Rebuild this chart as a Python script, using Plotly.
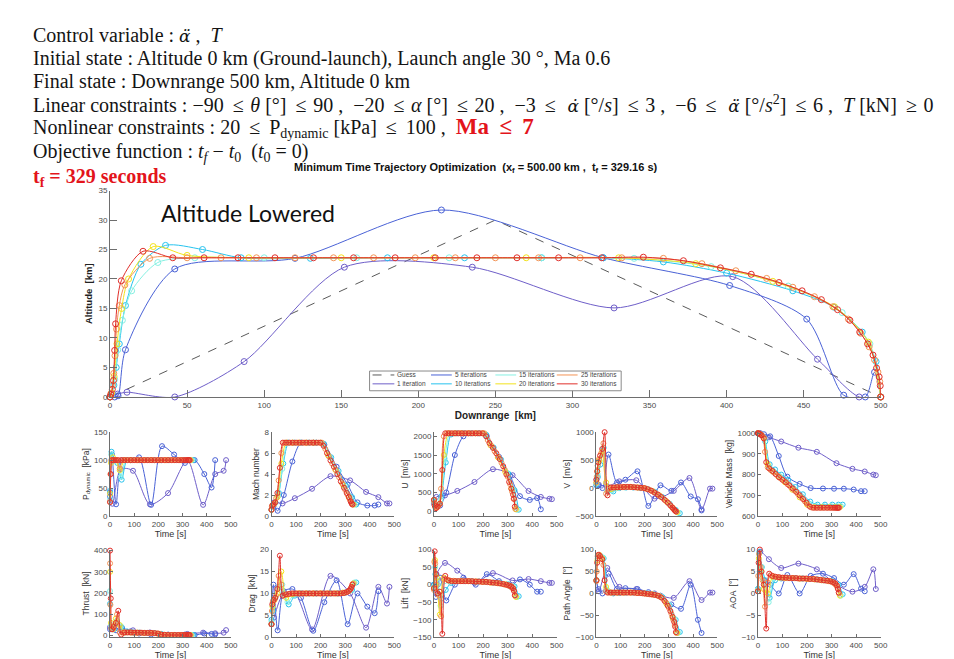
import plotly.graph_objects as go

W, H = 954, 659
SANS = "Liberation Sans, Arial, sans-serif"
SERIF = "Liberation Serif, Times New Roman, serif"

# ------------------------------------------------------------------ data
iter_labels = ['1 iteration', '5 iterations', '10 iterations', '15 iterations',
               '20 iterations', '25 iterations', '30 iterations']
iter_colors = ['#6f5fc9', '#4a62d6', '#27c3ee', '#86f0e2', '#f2e21c', '#f39455', '#e0302b']
guess_label = 'Guess'
guess_color = '#5a5a5a'

# main plot: downrange [km] / altitude [km]
dr_guess = [0, 250, 500]
alt_guess = [0, 30, 0]
dr_it1 = [0, 5, 11, 42, 87, 152, 235, 327, 404, 459, 486, 500]
alt_it1 = [0, 0.5, 0.8, 0, 6.0, 22.0, 22.0, 15.1, 20.4, 6.4, 0, 0]
dr_it5 = [0, 3, 5.2, 10, 42, 120, 215, 320, 402, 452, 476, 490, 496, 500]
alt_it5 = [0, 0, 0.2, 8.0, 21.7, 23.5, 31.7, 23.6, 18.9, 13.2, 0.3, 0, 4.2, 0]
dr_it10 = [0, 1, 2.5, 4, 6, 10, 20, 36, 60, 85, 130, 180, 230, 280, 320, 359, 400, 443, 470, 488, 497, 500]
alt_it10 = [0, 0.5, 2, 5, 9, 15.5, 22.5, 25.7, 25.0, 23.6, 23.5, 23.6, 23.6, 23.6, 23.6, 22.9, 21.0, 18.0, 15.2, 11.0, 6.0, 0]
dr_it15 = [0, 1.2, 3, 5, 8, 14, 31, 55, 100, 160, 220, 280, 340, 390, 440, 475, 493, 500]
alt_it15 = [0, 0.6, 3, 8, 13, 18, 22.8, 23.6, 23.6, 23.6, 23.6, 23.6, 23.5, 22.1, 18.8, 14.3, 9.0, 0]
dr_it20 = [0, 1, 2.6, 4.5, 7.5, 12, 28, 50, 90, 150, 210, 270, 330, 380, 430, 470, 492, 500]
alt_it20 = [0, 0.7, 3.5, 9, 15, 20, 25.5, 24.0, 23.6, 23.6, 23.6, 23.6, 23.6, 22.6, 19.6, 15.3, 9.3, 0]
dr_it25 = [0, 0.6, 1.6, 2.4, 3.2, 4.2, 6.0, 9.6, 25.7, 50, 72, 95, 120, 145, 171, 198, 224, 250, 278, 305,
           332, 359, 384, 406, 426, 443, 457, 469, 479, 487, 492.5, 496, 498.2, 499.4, 500]
alt_it25 = [0, 0.6, 2.0, 4.0, 7.0, 11.5, 15.5, 19.0, 23.5, 23.6, 23.6, 23.6, 23.6, 23.6, 23.6, 23.6, 23.6, 23.6, 23.6, 23.6,
            23.6, 23.5, 22.6, 21.4, 20.1, 18.6, 17.0, 15.3, 13.2, 10.8, 8.5, 6.3, 4.2, 2.6, 0]
dr_it30 = [0, 0.5, 1.5, 2.2, 3.0, 3.6, 7.3, 21.4, 40.7, 61, 83, 107, 132, 158, 185, 211, 238, 264, 291, 319,
           346, 372, 396, 416, 434, 449, 461.5, 472, 480, 486.4, 491.5, 495, 497.3, 499, 499.7, 500]
alt_it30 = [0, 0.4, 1.3, 2.8, 7.9, 12.4, 19.7, 24.7, 23.6, 23.6, 23.6, 23.6, 23.6, 23.6, 23.6, 23.6, 23.6, 23.6, 23.6, 23.6,
            23.7, 23.1, 21.9, 20.8, 19.4, 18.0, 16.5, 14.8, 13.0, 11.0, 9.0, 7.1, 4.9, 3.4, 1.9, 0]

# time nodes [s] of each iteration
t_it1 = [0, 10, 45, 95, 165, 240, 320, 385, 435, 470, 480]
t_it5 = [0, 8, 25, 50, 85, 120, 170, 215, 265, 310, 350, 390, 420, 435]
t_it10 = [0, 6, 16, 30, 48, 70, 95, 123, 153, 183, 213, 243, 273, 303, 328, 345]
t_it15 = [0, 5, 14, 27, 44, 65, 90, 118, 148, 178, 208, 238, 268, 298, 322, 338]
t_it20 = [0, 4, 12, 24, 40, 60, 85, 110, 140, 170, 200, 230, 260, 290, 315, 334]
t_it25 = [0, 1.5, 5, 11, 19, 29, 40, 52, 65, 79, 93, 107, 121, 135, 149, 163, 177, 191, 205, 219,
          233, 247, 261, 275, 288, 300, 310, 318, 324, 331]
t_it30 = [0, 3, 8, 15, 24, 34, 46, 59, 72, 86, 100, 114, 128, 142, 156, 170, 184, 198, 212, 226,
          240, 254, 268, 282, 295, 306, 315, 322, 326, 329]

# dynamic pressure [kPa]
pdyn_it1 = [42, 22, 84, 81, 21, 41, 100, 20, 75, 81, 100]
pdyn_it5 = [35, 110, 21, 100, 100, 105, 20, 125, 110, 95, 100, 75, 51, 100]
pdyn_it10 = [45, 115, 100, 95, 65, 100, 100, 100, 100, 100, 100, 100, 100, 100, 100, 100]
pdyn_it15 = [30, 110, 100, 100, 70, 100, 100, 100, 100, 100, 100, 100, 100, 100, 100, 100]
pdyn_it20 = [40, 95, 105, 100, 82, 100, 100, 100, 100, 100, 100, 100, 100, 100, 100, 100]
pdyn_it25 = [25, 75, 100, 100, 100, 100, 85, 100, 100, 100, 100, 100, 100, 100, 100, 100, 100, 100, 100, 100,
             100, 100, 100, 100, 100, 100, 100, 100, 100, 100]
pdyn_it30 = [25, 75, 100, 100, 100, 100, 100, 100, 100, 100, 100, 100, 100, 100, 100, 100, 100, 100, 100, 100,
             100, 100, 100, 100, 100, 100, 100, 100, 100, 100]

# Mach number
mach_it1 = [0.6, 1.3, 1.2, 1.7, 2.6, 3.8, 3.4, 2.3, 1.8, 1.2, 1.2]
mach_it5 = [0.6, 0.9, 0.5, 2.0, 5.2, 7.0, 7.0, 6.8, 4.7, 3.0, 1.3, 1.0, 1.0, 1.1]
mach_it10 = [0.6, 1.0, 1.3, 2.2, 5.0, 7, 7, 7, 7, 7, 6.9, 5.6, 4.3, 2.9, 1.8, 1.1]
mach_it15 = [0.6, 1.0, 1.2, 1.9, 4.5, 7, 7, 7, 7, 7, 6.9, 5.6, 4.2, 2.8, 1.7, 1.1]
mach_it20 = [0.6, 1.0, 1.2, 1.8, 5.0, 7, 7, 7, 7, 7, 7, 5.8, 4.4, 3.0, 1.8, 1.1]
mach_it25 = [0.6, 0.9, 1.05, 1.2, 1.7, 3.4, 6.0, 7, 7, 7, 7, 7, 7, 7, 7, 7, 7, 7, 7, 6.4,
             5.7, 5.0, 4.4, 3.7, 3.1, 2.5, 2.0, 1.6, 1.35, 1.1]
mach_it30 = [0.6, 1.0, 1.1, 1.3, 2.2, 4.6, 7.0, 7.0, 7.0, 7.0, 7.0, 7.0, 7.0, 7.0, 7.0, 7.0, 7.0, 7.0, 6.7, 6.0,
             5.3, 4.7, 4.0, 3.3, 2.7, 2.2, 1.8, 1.4, 1.2, 1.1]

# horizontal velocity U [m/s]
u_it1 = [200, 380, 420, 540, 780, 1120, 960, 540, 380, 330, 320]
u_it5 = [300, 150, 150, 500, 1500, 2000, 2150, 2000, 1450, 950, 400, 300, 350, 50]
u_it10 = [250, 120, 150, 400, 1300, 2050, 2080, 2080, 2080, 2080, 2040, 1700, 1380, 1000, 560, 40]
u_it15 = [280, 130, 120, 300, 1400, 2070, 2080, 2080, 2080, 2080, 2050, 1720, 1400, 1020, 580, 40]
u_it20 = [300, 150, 100, 200, 1500, 2080, 2080, 2080, 2080, 2080, 2080, 1760, 1440, 1050, 600, 50]
u_it25 = [300, 220, 110, 90, 150, 600, 2000, 2080, 2080, 2080, 2080, 2080, 2080, 2080, 2080, 2080, 2080, 2080, 2080, 1900,
          1750, 1600, 1450, 1290, 1110, 920, 720, 520, 330, 60]
u_it30 = [300, 150, 80, 120, 200, 1100, 2080, 2080, 2080, 2080, 2080, 2080, 2080, 2080, 2080, 2080, 2080, 2080, 2000, 1820,
          1690, 1545, 1390, 1200, 980, 780, 600, 440, 330, 120]

# vertical velocity V [m/s]
v_it1 = [50, 60, 30, 120, 140, -190, -50, 180, -380, -10, -10]
v_it5 = [150, 50, 0, 600, 100, 150, 300, -320, 50, -50, 100, -150, -200, -400]
v_it10 = [60, 200, 420, 720, -60, -60, 0, 10, 10, 0, -20, -70, -160, -280, -390, -450]
v_it15 = [80, 250, 480, 700, -50, -40, 0, 10, 15, 5, -10, -60, -150, -270, -380, -440]
v_it20 = [100, 300, 500, 650, 100, -20, 10, 15, 20, 10, -5, -50, -130, -240, -350, -430]
v_it25 = [100, 200, 400, 520, 620, 800, -100, 0, 10, 12, 15, 18, 20, 20, 18, 12, 8, 2, -10, -30,
          -60, -95, -135, -180, -230, -280, -330, -370, -400, -420]
v_it30 = [150, 300, 460, 580, 700, 1000, -130, 10, 10, 15, 15, 20, 20, 20, 15, 10, 5, 0, -20, -45,
          -80, -115, -160, -210, -260, -310, -350, -385, -405, -420]

# vehicle mass [kg]
mass_it1 = [1000, 1000, 980, 960, 930, 910, 855, 828, 815, 800, 797]
mass_it5 = [1000, 999, 995, 985, 890, 790, 755, 735, 733, 732, 732, 728, 720, 720]
mass_it10 = [1000, 998, 990, 960, 850, 825, 800, 775, 740, 705, 670, 655, 655, 655, 655, 655]
mass_it15 = [1000, 998, 992, 972, 840, 815, 792, 765, 730, 695, 660, 648, 648, 648, 648, 648]
mass_it20 = [1000, 998, 994, 978, 850, 815, 790, 763, 727, 690, 655, 643, 643, 643, 643, 643]
mass_it25 = [1000, 1000, 998, 994, 985, 910, 835, 822, 810, 795, 781, 768, 753, 738, 723, 706, 689, 671, 652, 641,
             640, 640, 640, 640, 640, 640, 640, 640, 640, 640]
mass_it30 = [1000, 999, 996, 990, 975, 860, 830, 818, 803, 787, 775, 763, 748, 733, 717, 700, 682, 664, 645, 640,
             640, 640, 640, 640, 640, 640, 640, 640, 640, 640]

# thrust [kN]
thrust_it1 = [40, 35, 30, 25, 15, 5, 8, 14, 11, 14, 26]
thrust_it5 = [30, 40, 25, 35, 20, 10, 5, 3, 3, 5, 3, 10, 8, 6]
thrust_it10 = [150, 40, 30, 60, 40, 20, 15, 14, 13, 12, 8, 4, 3, 3, 3, 3]
thrust_it15 = [210, 50, 30, 70, 45, 15, 15, 14, 13, 12, 8, 3, 3, 3, 3, 3]
thrust_it20 = [300, 60, 30, 80, 50, 15, 15, 14, 13, 12, 9, 3, 3, 3, 3, 3]
thrust_it25 = [340, 145, 35, 30, 50, 100, 15, 13, 15, 15, 14, 14, 14, 13, 13, 13, 12, 11, 8, 4,
               3, 3, 3, 3, 3, 3, 3, 3, 3, 3]
thrust_it30 = [400, 175, 30, 40, 60, 117, 5, 15, 15, 15, 14, 14, 14, 13, 13, 13, 12, 10, 5, 4,
               3, 3, 3, 3, 3, 3, 3, 3, 3, 3]

# drag [kN]
drag_it1 = [3, 4.5, 9.5, 10, 1.8, 14, 10, 2.2, 11.5, 7.7, 11.5]
drag_it5 = [3, 12, 1.6, 10.5, 11, 9, 1.5, 8, 13, 3, 10, 7, 5.5, 10.5]
drag_it10 = [4, 6, 9, 11.5, 10, 7.5, 9.5, 10, 10, 10, 10, 10, 10, 10.2, 10.8, 12.5]
drag_it15 = [3.5, 7, 9, 11, 12, 8, 9.6, 10, 10, 10, 10, 10, 10, 10.2, 10.7, 12.5]
drag_it20 = [3, 7, 8.5, 10, 15, 9, 9.8, 10, 10, 10, 10, 10, 10, 10.2, 10.6, 12.3]
drag_it25 = [3, 6, 8, 8.5, 9.5, 14, 12, 9.6, 9.8, 10, 10, 10, 10, 10, 10, 10, 10, 10, 10, 10,
             10, 10, 10, 10, 10.1, 10.2, 10.4, 10.8, 11.3, 12.2]
drag_it30 = [3, 7.5, 8.5, 9, 11, 18.6, 9.5, 9.8, 9.9, 10, 10, 10, 10, 10, 10, 10, 10, 10, 10, 10,
             10, 10, 10, 10, 10.1, 10.3, 10.6, 11.0, 11.5, 12.0]

# lift [kN]
lift_it1 = [0, 30, 62, 40, 5, 33, 12, 16, 10, 5, 5]
lift_it5 = [0, -35, 20, -45, 0, 20, 0, 30, 10, -5, 15, 0, -20, -20]
lift_it10 = [0, 30, 0, -40, -15, 5, 10, 10, 10, 9, 8, 6, 4, 1, -5, -33]
lift_it15 = [-5, 50, 10, -60, 10, 8, 10, 10, 10, 9, 8, 6, 4, 1, -5, -35]
lift_it20 = [-10, 70, 20, -85, 20, 12, 10, 10, 10, 9, 8, 6, 4, 1, -5, -35]
lift_it25 = [-15, 65, 60, 0, -30, -90, 15, 15, 12, 11, 10, 10, 10, 10, 10, 9, 9, 8, 8, 7,
             6, 5, 4, 2, 0, -2, -5, -9, -15, -32]
lift_it30 = [-10, 95, 30, -25, -20, -140, 25, 12, 10, 10, 10, 10, 10, 10, 10, 9, 9, 8, 8, 7,
             6, 5, 4, 2, 0, -2, -5, -10, -18, -30]

# path angle [deg]
path_it1 = [30, 5, 58, 15, 10, 0, -10, 28, -15, 2, 2]
path_it5 = [30, 10, 0, 45, 10, 12, 10, 3, -5, -25, -35, 20, -60, -90]
path_it10 = [30, 85, 86, 80, 5, 0, 1, 2, 2, 1, 0, -3, -8, -27, -60, -88]
path_it15 = [30, 80, 87, 82, 8, 2, 2, 2, 2, 1, 0, -2, -7, -25, -57, -90]
path_it20 = [30, 75, 88, 80, 15, 2, 2, 2, 2, 1, 0, -2, -6, -24, -55, -90]
path_it25 = [28, 50, 85, 88, 80, 65, 5, 2, 2, 2, 2, 2, 2, 2, 2, 1, 1, 0, -1, -2,
             -3, -4, -7, -12, -21, -33, -46, -60, -72, -90]
path_it30 = [30, 70, 88, 85, 78, 30, 2, 2, 2, 2, 2, 2, 2, 2, 2, 1, 1, 0, -1, -2,
             -3, -5, -9, -17, -28, -40, -53, -65, -76, -88]

# angle of attack [deg]
aoa_it1 = [1, 9.5, 7.8, 5.8, 6.8, 5.5, 2, 0.4, 1.5, 5.5, 1.0]
aoa_it5 = [1, 5, 3, 2, 0, 4.2, 0, 4, 4.5, 3.5, 2, 4.4, 1.1, 0.5]
aoa_it10 = [1, 9.5, 6, 3, -1, 3.0, 3.4, 3.5, 3.5, 3.4, 3.3, 3.2, 3.0, 2.8, 2.0, -0.2]
aoa_it15 = [1, 9, 6, 2, -2, 3.5, 3.6, 3.5, 3.5, 3.4, 3.3, 3.2, 3.0, 2.8, 2.0, -0.5]
aoa_it20 = [0.5, 8, 5, 1, 0, 3.8, 3.6, 3.5, 3.5, 3.4, 3.3, 3.2, 3.0, 2.8, 2.2, -0.5]
aoa_it25 = [0.5, 4, 9, 6, 3, -3, 2.5, 4.2, 3.9, 3.7, 3.6, 3.6, 3.5, 3.5, 3.5, 3.4, 3.4, 3.4, 3.3, 3.3,
            3.2, 3.1, 3.0, 2.9, 2.8, 2.6, 2.3, 1.9, 1.3, 0]
aoa_it30 = [0.5, 7, 10, 5, 2, -8, 4.5, 4, 3.8, 3.7, 3.6, 3.6, 3.5, 3.5, 3.5, 3.4, 3.4, 3.4, 3.3, 3.3,
            3.2, 3.1, 3.0, 2.9, 2.8, 2.6, 2.3, 1.8, 1.0, 0.2]

# subplot axis titles and tick layouts
sub_titles = ['P<sub>dynamic</sub>  [kPa]', 'Mach number', 'U  [m/s]', 'V  [m/s]', 'Vehicle Mass  [kg]',
              'Thrust  [kN]', 'Drag  [kN]', 'Lift  [kN]', 'Path Angle  [°]', 'AOA  [°]']
sub_ranges = [[0, 150], [0, 8], [-130, 2110], [-500, 1000], [600, 1005],
              [-8, 405], [0, 20], [-150, 100], [-100, 100], [-10, 10]]
sub_dticks = [50, 2, 500, 500, 100, 100, 5, 50, 50, 5]

# ------------------------------------------------------------------ assemble
main_x = [dr_it1, dr_it5, dr_it10, dr_it15, dr_it20, dr_it25, dr_it30]
main_y = [alt_it1, alt_it5, alt_it10, alt_it15, alt_it20, alt_it25, alt_it30]
times = [t_it1, t_it5, t_it10, t_it15, t_it20, t_it25, t_it30]
sub_data = [
    [pdyn_it1, pdyn_it5, pdyn_it10, pdyn_it15, pdyn_it20, pdyn_it25, pdyn_it30],
    [mach_it1, mach_it5, mach_it10, mach_it15, mach_it20, mach_it25, mach_it30],
    [u_it1, u_it5, u_it10, u_it15, u_it20, u_it25, u_it30],
    [v_it1, v_it5, v_it10, v_it15, v_it20, v_it25, v_it30],
    [mass_it1, mass_it5, mass_it10, mass_it15, mass_it20, mass_it25, mass_it30],
    [thrust_it1, thrust_it5, thrust_it10, thrust_it15, thrust_it20, thrust_it25, thrust_it30],
    [drag_it1, drag_it5, drag_it10, drag_it15, drag_it20, drag_it25, drag_it30],
    [lift_it1, lift_it5, lift_it10, lift_it15, lift_it20, lift_it25, lift_it30],
    [path_it1, path_it5, path_it10, path_it15, path_it20, path_it25, path_it30],
    [aoa_it1, aoa_it5, aoa_it10, aoa_it15, aoa_it20, aoa_it25, aoa_it30],
]


def px_x(x):
    return x / W


def px_y(y):
    return 1 - y / H


fig = go.Figure()

# main plot
fig.add_trace(go.Scatter(x=dr_guess, y=alt_guess, mode='lines', name=guess_label,
                         line=dict(color=guess_color, width=1, dash='dash'),
                         xaxis='x', yaxis='y', showlegend=False, cliponaxis=False))
for k in range(7):
    fig.add_trace(go.Scatter(
        x=main_x[k], y=main_y[k], mode='lines+markers', name=iter_labels[k],
        line=dict(color=iter_colors[k], width=1, shape='spline', smoothing=0.8),
        marker=dict(symbol='circle-open', size=6, color=iter_colors[k], line=dict(width=1)),
        xaxis='x', yaxis='y', showlegend=False, cliponaxis=False))

# small plots
for s in range(10):
    ax = s + 2
    for k in range(7):
        fig.add_trace(go.Scatter(
            x=times[k], y=sub_data[s][k], mode='lines+markers', name=iter_labels[k],
            line=dict(color=iter_colors[k], width=1, shape='spline', smoothing=0.8),
            marker=dict(symbol='circle-open', size=5, color=iter_colors[k], line=dict(width=1)),
            xaxis='x%d' % ax, yaxis='y%d' % ax, showlegend=False, cliponaxis=False))


def axis_style(**kw):
    d = dict(showline=True, linecolor='#6e6e6e', linewidth=1, ticks='inside', ticklen=3,
             tickwidth=1, tickcolor='#6e6e6e', showgrid=False, zeroline=False, mirror=False,
             tickfont=dict(family=SANS, size=8, color='#4a4a4a'))
    d.update(kw)
    return d


layout = dict(
    width=W, height=H, autosize=False,
    margin=dict(l=0, r=0, t=0, b=0),
    paper_bgcolor='white', plot_bgcolor='white',
    showlegend=False,
    font=dict(family=SANS, color='#333333'),
)
layout['xaxis'] = axis_style(domain=[px_x(101), px_x(879)], range=[0, 500], dtick=50, ticklen=7,
                             anchor='y',
                             title=dict(text='<b>Downrange  [km]</b>', standoff=2,
                                        font=dict(family=SANS, size=10, color='#222222')))
layout['yaxis'] = axis_style(domain=[px_y(390.3), px_y(181)], range=[0, 35], dtick=5, ticklen=7,
                             anchor='x',
                             title=dict(text='<b>Altitude  [km]</b>', standoff=4,
                                        font=dict(family=SANS, size=9.5, color='#222222')))

cols = [(101, 223), (264, 388), (428, 552), (592, 714), (755, 879)]
rows = [(426, 511), (545, 634)]
for s in range(10):
    ax = s + 2
    c0, c1 = cols[s % 5]
    r0, r1 = rows[s // 5]
    layout['xaxis%d' % ax] = axis_style(
        domain=[px_x(c0), px_x(c1)], range=[0, 500], dtick=100, anchor='y%d' % ax,
        title=dict(text='Time [s]', standoff=1, font=dict(family=SANS, size=9, color='#333333')))
    layout['yaxis%d' % ax] = axis_style(
        domain=[px_y(r1), px_y(r0)], range=sub_ranges[s], dtick=sub_dticks[s], anchor='x%d' % ax,
        title=dict(text=sub_titles[s], standoff=3, font=dict(family=SANS, size=8.5, color='#333333')))

# manual compact legend (MATLAB style, 4 columns x 2 rows)
leg_order = [[guess_label, iter_labels[1], iter_labels[3], iter_labels[5]],
             [iter_labels[0], iter_labels[2], iter_labels[4], iter_labels[6]]]
leg_color = {guess_label: guess_color}
for k in range(7):
    leg_color[iter_labels[k]] = iter_colors[k]
shapes = [dict(type='rect', xref='paper', yref='paper', x0=px_x(363), x1=px_x(617),
               y0=px_y(384), y1=px_y(364), line=dict(color='#8a8a8a', width=1),
               fillcolor='white', layer='above')]
annotations = []
col_x = [(366, 388), (425, 446), (490, 511), (552, 573)]
row_y = [368, 377]
for r in range(2):
    for c in range(4):
        lab = leg_order[r][c]
        x0, x1 = col_x[c]
        shapes.append(dict(type='line', xref='paper', yref='paper', x0=px_x(x0), x1=px_x(x1),
                           y0=px_y(row_y[r]), y1=px_y(row_y[r]), layer='above',
                           line=dict(color=leg_color[lab], width=1,
                                     dash='dash' if lab == guess_label else 'solid')))
        annotations.append(dict(xref='paper', yref='paper', x=px_x(x1 + 1), y=px_y(row_y[r]),
                                xanchor='left', yanchor='middle', showarrow=False, text=lab,
                                font=dict(family=SANS, size=6.5, color='#444444')))

# plot title
annotations.append(dict(xref='paper', yref='paper', x=px_x(470), y=px_y(158), xanchor='center',
                        yanchor='middle', showarrow=False,
                        text='<b>Minimum Time Trajectory Optimization  (x<sub>f</sub> = 500.00 km ,  '
                             't<sub>f</sub> = 329.16 s)</b>',
                        font=dict(family=SANS, size=11, color='#111111')))

# "Altitude Lowered"
annotations.append(dict(xref='paper', yref='paper', x=px_x(150), y=px_y(204), xanchor='left',
                        yanchor='middle', showarrow=False, text='Altitude Lowered',
                        font=dict(family='Lato, Open Sans, sans-serif', size=23, color='#111111')))

# header text block
NB = '\u00a0'
TH = '\u2009'
HS = '\u200a'
LE = TH + '≤' + TH
LE1 = TH + '≤' + HS
GE1 = TH + '≥' + HS
DD = '<span style="font-family:DejaVu Serif;font-size:17px"><i>α̈</i></span>'
D1 = '<span style="font-family:DejaVu Serif;font-size:17px"><i>α̇</i></span>'
header_lines = [
    'Control variable : ' + DD + ' ,' + NB + ' <i>T</i>',
    'Initial state : Altitude 0 km (Ground-launch), Launch angle 30 °, Ma 0.6',
    'Final state : Downrange 500 km, Altitude 0 km',
    'Linear constraints : −90 ' + LE1 + ' <i>θ</i> [°] ' + LE1 + ' 90 ,' + NB + ' −20 ' + LE1 +
    ' <i>α</i> [°] ' + LE1 + ' 20 ,' + NB + ' −3 ' + LE1 + NB + ' ' + D1 + ' [°/<i>s</i>] ' + LE1 +
    ' 3 ,' + NB + ' −6 ' + LE1 + NB + ' ' + DD + ' [°/<i>s</i><sup>2</sup>] ' + LE1 + ' 6 ,' + NB +
    ' <i>T</i> [kN] ' + GE1 + ' 0',
    'Nonlinear constraints : 20 ' + LE + ' P<sub>dynamic</sub> [kPa] ' + LE + ' 100 ,' + NB +
    ' <span style="color:#e3141b;font-size:23px"><b>Ma ' + LE + ' 7</b></span>',
    'Objective function : <i>t<sub>f</sub></i> − <i>t</i><sub>0</sub>' + NB + NB +
    '(<i>t</i><sub>0</sub> = 0)',
]
header_y = [23, 47, 70, 93, 117, 142]
for txt, yy in zip(header_lines, header_y):
    annotations.append(dict(xref='paper', yref='paper', x=px_x(21), y=px_y(yy), xanchor='left',
                            yanchor='middle', showarrow=False, text=txt,
                            font=dict(family=SERIF, size=20, color='#141414')))
annotations.append(dict(xref='paper', yref='paper', x=px_x(21), y=px_y(168), xanchor='left',
                        yanchor='middle', showarrow=False,
                        text='<b>t<sub>f</sub> = 329 seconds</b>',
                        font=dict(family=SERIF, size=20, color='#e3141b')))

layout['shapes'] = shapes
layout['annotations'] = annotations
fig.update_layout(**layout)
fig.write_html('out.html')
